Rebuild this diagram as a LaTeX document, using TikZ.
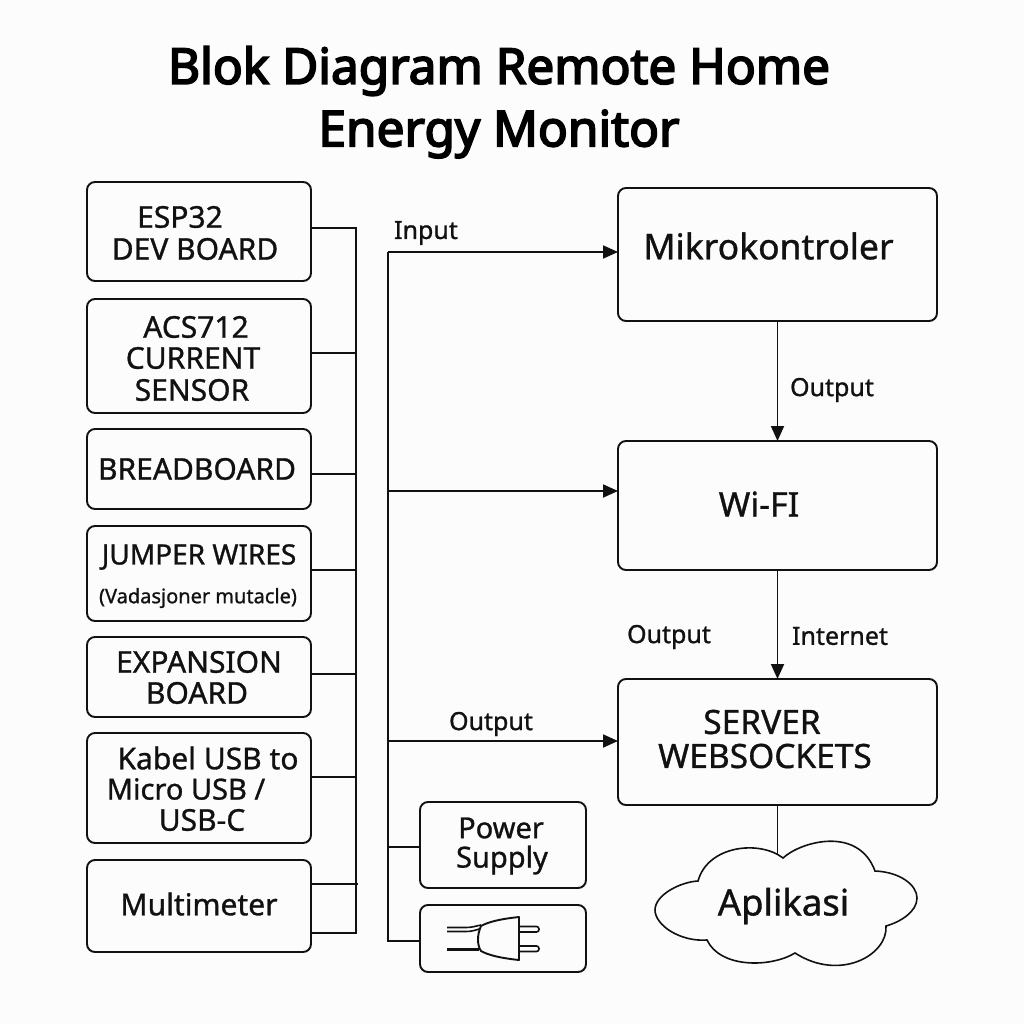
\documentclass[tikz,border=0pt]{standalone}
\usepackage{fontspec}
\setmainfont[FakeBold=1]{Noto Sans}
\newfontfamily\ttlfont[FakeBold=3.5]{Noto Sans}
\usetikzlibrary{arrows.meta}
\definecolor{ink}{HTML}{111111}
\tikzset{
  box/.style={draw=ink,line width=1.9pt,rounded corners=8pt,anchor=north west,inner sep=0pt,outer sep=0pt},
  big/.style={text=ink,font=\fontsize{30}{34}\selectfont,inner sep=0pt},
  mid/.style={text=ink,font=\fontsize{29}{33}\selectfont,inner sep=0pt},
  lab/.style={text=ink,font=\fontsize{25}{29}\selectfont,inner sep=0pt},
  ttl/.style={text=black,font=\ttlfont\fontsize{49.5}{56}\selectfont,inner sep=0pt},
  wire/.style={draw=ink,line width=1.8pt},
  arr/.style={wire,-{Triangle[length=15pt,width=13pt]}},
}
\begin{document}
\begin{tikzpicture}[x=1pt,y=-1pt]
\fill[white!99!black] (0,0) rectangle (1024,1024);
\useasboundingbox (0,0) rectangle (1024,1024);
\node[ttl] (t1) at (499,71) {Blok Diagram Remote Home};
\node[ttl] (t2) at (499,134) {Energy Monitor};
% left boxes
\node[box,minimum width=224pt,minimum height=99pt] (esp) at (87,182) {};
\node[box,minimum width=224pt,minimum height=114pt] (acs) at (87,299) {};
\node[box,minimum width=224pt,minimum height=80pt] (bread) at (87,429) {};
\node[box,minimum width=224pt,minimum height=95pt] (jump) at (87,526) {};
\node[box,minimum width=224pt,minimum height=80pt] (exp) at (87,637) {};
\node[box,minimum width=224pt,minimum height=110pt] (kabel) at (87,733) {};
\node[box,minimum width=224pt,minimum height=92pt] (multi) at (87,860) {};
\node[big] (e1) at (180,217) {ESP32};
\node[big] (e2) at (195,249) {DEV BOARD};
\node[big] (a1) at (196,327) {ACS712};
\node[big] (a2) at (193,358) {CURRENT};
\node[big] (a3) at (192,390) {SENSOR};
\node[big] (b1) at (197,469) {BREADBOARD};
\node[text=ink,font=\fontsize{28}{32}\selectfont,inner sep=0pt] (j1) at (199,557) {JUMPER WIRES};
\node[text=ink,font=\fontsize{20}{24}\selectfont,inner sep=0pt] (j2) at (198,598) {(Vadasjoner mutacle)};
\node[big] (x1) at (199,662) {EXPANSION};
\node[big] (x2) at (197,693) {BOARD};
\node[big] (k1) at (208,758) {Kabel USB to};
\node[mid] (k2) at (186,789) {Micro USB /};
\node[big] (k3) at (202,820) {USB-C};
\node[big] (m1) at (199,904) {Multimeter};
% bus 1
\coordinate (b1top) at (356,228);
\coordinate (b1bot) at (356,933);
\draw[wire] (esp.east |- b1top) -- (b1top) -- (b1bot) -- (multi.east |- b1bot);
\foreach \n/\y in {acs/353,bread/474,jump/570,exp/674,kabel/777}
  \draw[wire] (\n.east |- 0,\y) -- (356,\y);
\draw[wire] (multi.east |- 0,884) -- (358,884);
% right boxes
\node[box,minimum width=319pt,minimum height=133pt] (mik) at (618,188) {};
\node[box,minimum width=319pt,minimum height=129pt] (wifi) at (618,441) {};
\node[box,minimum width=319pt,minimum height=126pt] (srv) at (618,679) {};
\node[text=ink,font=\fontsize{35.5}{40}\selectfont,inner sep=0pt] (m2) at (768.5,246) {Mikrokontroler};
\node[text=ink,font=\fontsize{34}{38}\selectfont,inner sep=0pt] (w1) at (759,504) {Wi-FI};
\node[text=ink,font=\fontsize{33.5}{38}\selectfont,inner sep=0pt] (s1) at (762,722) {SERVER};
\node[text=ink,font=\fontsize{33.5}{38}\selectfont,inner sep=0pt] (s2) at (765,756) {WEBSOCKETS};
% small boxes
\node[box,minimum width=166pt,minimum height=86pt] (pow) at (420,802) {};
\node[box,minimum width=166pt,minimum height=67pt] (plug) at (420,905) {};
\node[mid] (p1) at (501,828) {Power};
\node[mid] (p2) at (502,860) {Supply};
% bus 2
\coordinate (b2top) at (388,252);
\coordinate (b2bot) at (388,941);
\coordinate (b2w) at (388,491);
\coordinate (b2s) at (388,741);
\coordinate (b2p) at (388,847);
\draw[wire] (plug.west |- b2bot) -- (b2bot) -- (b2top);
\draw[arr] (b2top) -- (mik.west |- b2top);
\draw[arr] (b2w) -- (wifi.west |- b2w);
\draw[arr] (b2s) -- (srv.west |- b2s);
\draw[wire] (b2p) -- (pow.west |- b2p);
% right connectors
\coordinate (cx) at (777.5,0);
\coordinate (cl) at (777.5,855);
\draw[arr] (mik.south -| cx) -- (wifi.north -| cx);
\draw[arr] (wifi.south -| cx) -- (srv.north -| cx);
\draw[wire] (srv.south -| cx) -- (cl);
% cloud
\draw[draw=ink,line width=1.6pt,fill=white!99!black]
  (783,858) .. controls (800,842) and (858,825) .. (875,871)
  .. controls (900,872) and (917,885) .. (917,898)
  .. controls (917,912) and (900,922) .. (886,926)
  .. controls (888,955) and (840,982) .. (795,953)
  .. controls (770,968) and (720,968) .. (707,940)
  .. controls (680,942) and (655,925) .. (655,910)
  .. controls (655,895) and (680,882) .. (698,881)
  .. controls (708,845) and (760,840) .. (783,858) -- cycle;
\node[text=ink,font=\fontsize{36.5}{41}\selectfont,inner sep=0pt] (ap) at (783.5,906) {Aplikasi};
% labels
\node[lab] (l1) at (426,233) {Input};
\node[lab] (l2) at (832,390) {Output};
\node[lab] (l3) at (669,637) {Output};
\node[lab] (l4) at (840,636) {Internet};
\node[lab] (l5) at (491,724) {Output};
% plug
\draw[draw=ink,line width=1.9pt,line join=round]
  (519,917) .. controls (500,919) and (488,922) .. (481,926)
  .. controls (477,935) and (477,945) .. (481,951)
  .. controls (488,955) and (500,958) .. (519,960) -- cycle;
\draw[draw=ink,line width=1.6pt] (447,927.5) -- (466,927.5) .. controls (472,927.5) and (476,926) .. (481,925);
\draw[draw=ink,line width=1.6pt] (447,931.5) -- (466,931.5) .. controls (472,931.5) and (476,930) .. (479,929);
\draw[draw=ink,line width=3pt] (447,949) -- (479,949);
\draw[draw=ink,line width=1.6pt,rounded corners=2.5pt] (519,926.5) -- (539,926.5) -- (539,932) -- (519,932);
\draw[draw=ink,line width=1.6pt,rounded corners=2.5pt] (519,946) -- (539,946) -- (539,951.5) -- (519,951.5);
\end{tikzpicture}
\end{document}
